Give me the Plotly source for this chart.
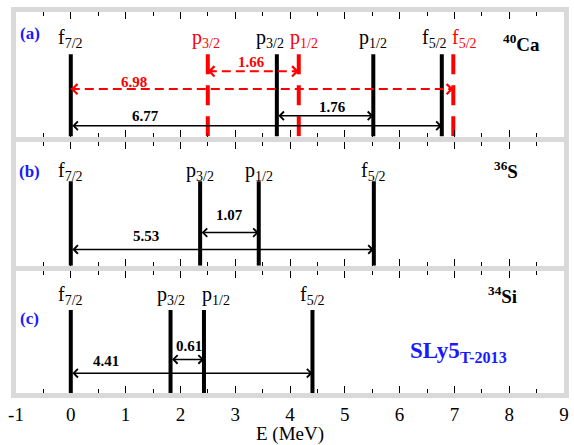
import plotly.graph_objects as go

# ---------------- data ----------------
level_names = ["f<sub>7/2</sub>", "p<sub>3/2</sub>", "p<sub>1/2</sub>", "f<sub>5/2</sub>"]
ca40_black = [0.0, 3.76, 5.52, 6.77]
ca40_red = [0.0, 2.50, 4.16, 6.98]
s36_levels = [0.0, 2.36, 3.43, 5.53]
si34_levels = [0.0, 1.82, 2.43, 4.41]
nuclei = ["<sup>40</sup>Ca", "<sup>36</sup>S", "<sup>34</sup>Si"]
panel_tags = ["(a)", "(b)", "(c)"]
x_ticks = [-1, 0, 1, 2, 3, 4, 5, 6, 7, 8, 9]

FONT = "Liberation Serif, Times New Roman, serif"
GRAY = "#d9d9d9"
RED = "#ff0000"
BLUE = "#1a1aff"

fig = go.Figure()

# panel domains (a top, b middle, c bottom)
domains = [[0.673, 1.0], [0.334, 0.660], [0.0, 0.319]]
line_tops = [0.66, 0.68, 0.683]
label_y = [0.785, 0.76, 0.805]
axn = ["", "2", "3"]

def xr(i):
    return "x" + axn[i]

def yr(i):
    return "y" + axn[i]

def vlines(i, xs, color, dash=None, name=""):
    X, Y = [], []
    for v in xs:
        X += [v, v, None]
        Y += [line_tops[i], 0, None]
    fig.add_trace(go.Scatter(x=X, y=Y, mode="lines", xaxis=xr(i), yaxis=yr(i),
                             line=dict(color=color, width=4, dash=dash),
                             showlegend=False, hoverinfo="skip", name=name))

annotations = []

def level_labels(i, xs, offsets, color, names=level_names):
    for v, off, nm in zip(xs, offsets, names):
        annotations.append(dict(x=v + off, y=label_y[i], xref=xr(i), yref=yr(i), text=nm,
                                showarrow=False, font=dict(family=FONT, size=20, color=color),
                                xanchor="center", yanchor="middle"))

def solid_arrow(i, x0, x1, y, lab_x, lab_y, color="black"):
    annotations.append(dict(x=x1, y=y, ax=x0, ay=y, xref=xr(i), yref=yr(i), axref=xr(i), ayref=yr(i),
                            text="", showarrow=True, arrowhead=4, startarrowhead=4,
                            arrowside="end+start", arrowsize=1.1, startarrowsize=1.1,
                            arrowwidth=1.5, arrowcolor=color, standoff=0, startstandoff=0))
    annotations.append(dict(x=lab_x, y=lab_y, xref=xr(i), yref=yr(i), text="<b>%.2f</b>" % (x1 - x0),
                            showarrow=False, font=dict(family=FONT, size=15, color=color)))

def dashed_arrow(i, x0, x1, y, lab_x, lab_y, color=RED):
    fig.add_trace(go.Scatter(x=[x0, x1], y=[y, y], mode="lines", xaxis=xr(i), yaxis=yr(i),
                             line=dict(color=color, width=2, dash="9px,5px"),
                             showlegend=False, hoverinfo="skip"))
    for tip, tail in ((x0, x0 + 0.12), (x1, x1 - 0.12)):
        annotations.append(dict(x=tip, y=y, ax=tail, ay=y, xref=xr(i), yref=yr(i), axref=xr(i), ayref=yr(i),
                                text="", showarrow=True, arrowhead=4, arrowsize=1.1,
                                arrowwidth=1.8, arrowcolor=color, standoff=0))
    annotations.append(dict(x=lab_x, y=lab_y, xref=xr(i), yref=yr(i), text="<b>%.2f</b>" % (x1 - x0),
                            showarrow=False, font=dict(family=FONT, size=15, color=color)))

# ---- panel (a) 40Ca ----
vlines(0, ca40_red[1:], RED, dash="20px,11px")
vlines(0, ca40_black, "black")
level_labels(0, ca40_black, [0, -0.13, 0, -0.14], "black")
level_labels(0, ca40_red[1:], [-0.04, 0.1, 0.2], RED, names=level_names[1:])
dashed_arrow(0, ca40_red[1], ca40_red[2], 0.524, (ca40_red[1] + ca40_red[2]) / 2 - 0.04, 0.60)
dashed_arrow(0, ca40_red[0], ca40_red[3], 0.381, 1.15, 0.44)
solid_arrow(0, ca40_black[1], ca40_black[2], 0.167, 4.77, 0.24)
solid_arrow(0, ca40_black[0], ca40_black[3], 0.087, 1.37, 0.167)

# ---- panel (b) 36S ----
vlines(1, s36_levels, "black")
level_labels(1, s36_levels, [0, 0, 0, 0], "black")
solid_arrow(1, s36_levels[1], s36_levels[2], 0.267, (s36_levels[1] + s36_levels[2]) / 2, 0.41)
solid_arrow(1, s36_levels[0], s36_levels[3], 0.131, 1.37, 0.243)

# ---- panel (c) 34Si ----
vlines(2, si34_levels, "black")
level_labels(2, si34_levels, [0, 0, 0.22, 0], "black")
solid_arrow(2, si34_levels[1], si34_levels[2], 0.276, (si34_levels[1] + si34_levels[2]) / 2 + 0.03, 0.39)
solid_arrow(2, si34_levels[0], si34_levels[3], 0.163, 0.64, 0.26)

# nucleus names and panel tags
nuc_pos = [(8.22, 0.75), (7.95, 0.77), (7.88, 0.81)]
tag_y = [0.83, 0.76, 0.61]
for i in range(3):
    annotations.append(dict(x=nuc_pos[i][0], y=nuc_pos[i][1], xref=xr(i), yref=yr(i),
                            text="<b>" + nuclei[i] + "</b>", showarrow=False,
                            font=dict(family=FONT, size=19, color="black")))
    annotations.append(dict(x=-0.75, y=tag_y[i], xref=xr(i), yref=yr(i),
                            text="<b>" + panel_tags[i] + "</b>", showarrow=False,
                            font=dict(family=FONT, size=17, color=BLUE)))

annotations.append(dict(x=7.07, y=0.34, xref="x3", yref="y3",
                        text="<b>SLy5<sub>T-2013</sub></b>", showarrow=False,
                        font=dict(family=FONT, size=23, color=BLUE)))

layout = dict(
    width=574, height=445,
    margin=dict(l=16, r=5, t=12, b=48),
    paper_bgcolor="white", plot_bgcolor="white",
    annotations=annotations,
    showlegend=False,
    font=dict(family=FONT),
)

for i in range(3):
    xa = dict(range=[-1, 9], anchor=yr(i), showgrid=False, zeroline=False,
              tickmode="array", tickvals=x_ticks, ticktext=[str(t) for t in x_ticks],
              ticks="inside", ticklen=7, tickwidth=1, tickcolor="black",
              minor=dict(ticks="inside", dtick=0.5, tick0=0, ticklen=4, tickwidth=1,
                         tickcolor="black", showgrid=False),
              mirror="ticks", showline=True, linecolor=GRAY, linewidth=5,
              showticklabels=(i == 2),
              tickfont=dict(family=FONT, size=19, color="black"),
              fixedrange=True)
    if i == 2:
        xa["title"] = dict(text="E (MeV)", font=dict(family=FONT, size=19, color="black"), standoff=2)
    else:
        xa["matches"] = "x3"
    ya = dict(range=[0, 1], domain=domains[i], anchor=xr(i), showgrid=False, zeroline=False,
              showticklabels=False, ticks="", showline=True, mirror=True,
              linecolor=GRAY, linewidth=5, fixedrange=True)
    layout["xaxis" + axn[i]] = xa
    layout["yaxis" + axn[i]] = ya

fig.update_layout(**layout)
fig.write_html("out.html")
